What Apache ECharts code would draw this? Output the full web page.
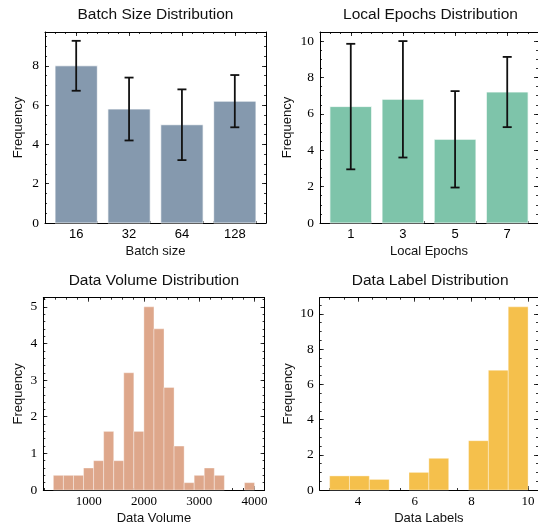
<!DOCTYPE html>
<html><head><meta charset="utf-8">
<script src="https://cdn.jsdelivr.net/npm/echarts@6/dist/echarts.min.js"></script>
<style>html,body{margin:0;padding:0;background:#fff}#c{width:538px;height:530px}</style>
</head><body><div id="c"></div>
<script>
// ---- data ----
const batchSizes = ['16', '32', '64', '128'];
const batchFreq = [8.0, 5.8, 5.0, 6.2];
const batchErr = [1.27, 1.6, 1.8, 1.33];

const localEpochs = ['1', '3', '5', '7'];
const epochFreq = [6.4, 6.8, 4.6, 7.2];
const epochErr = [3.45, 3.2, 2.65, 1.93];

const volumeRange = [360, 4000];
const volumeCounts = [0.4, 0.4, 0.4, 0.6, 0.8, 1.6, 0.8, 3.2, 1.6, 5.0, 4.4, 2.8, 1.2, 0.2, 0.4, 0.6, 0.4, 0, 0, 0.2];

const labelRange = [3, 10];
const labelCounts = [0.8, 0.8, 0.6, 0, 1.0, 1.8, 0, 2.8, 6.8, 10.4];

const batchYTicks = [0, 2, 4, 6, 8];
const epochYTicks = [0, 2, 4, 6, 8, 10];
const volumeXTicks = [1000, 2000, 3000, 4000];
const volumeYTicks = [0, 1, 2, 3, 4, 5];
const labelXTicks = [4, 6, 8, 10];
const labelYTicks = [0, 2, 4, 6, 8, 10];

// ---- helpers ----
const SANS = 'Liberation Sans, Arial, Helvetica, sans-serif';
const SERIF = 'Liberation Serif, Times New Roman, serif';
function steps(a, b, step) {
  const out = []; const n = Math.round((b - a) / step);
  for (let i = 0; i <= n; i++) out.push(+(a + i * step).toFixed(6));
  return out;
}
function histEdges(range, n) {
  const w = (range[1] - range[0]) / n;
  return steps(range[0], range[1], w);
}

const panels = [
  { title: 'Batch Size Distribution', grid: { left: 45, top: 32, width: 221, height: 191 },
    x: { min: -0.59, max: 3.59, major: [0, 1, 2, 3], minor: steps(-0.4, 3.4, 0.2), font: SANS, size: 13,
         fmt: v => batchSizes[Math.round(v)], name: 'Batch size' },
    y: { min: 0, max: 9.72, major: batchYTicks, minor: steps(0, 9.5, 0.5), gap: 20 } },
  { title: 'Local Epochs Distribution', grid: { left: 320, top: 32, width: 221, height: 191 },
    x: { min: -0.59, max: 3.59, major: [0, 1, 2, 3], minor: steps(-0.4, 3.4, 0.2), font: SANS, size: 13,
         fmt: v => localEpochs[Math.round(v)], name: 'Local Epochs' },
    y: { min: 0, max: 10.5, major: epochYTicks, minor: steps(0, 10.5, 0.5), gap: 26 } },
  { title: 'Data Volume Distribution', grid: { left: 43.3, top: 297.7, width: 221.3, height: 192.3 },
    x: { min: 178, max: 4182, major: volumeXTicks, minor: steps(200, 4000, 200), font: SERIF, size: 13,
         fmt: v => String(v), name: 'Data Volume' },
    y: { min: 0, max: 5.25, major: volumeYTicks, minor: steps(0, 5.2, 0.2), gap: 18 } },
  { title: 'Data Label Distribution', grid: { left: 319.7, top: 297.7, width: 221, height: 192.3 },
    x: { min: 2.65, max: 10.35, major: labelXTicks, minor: steps(3, 10, 0.5), font: SERIF, size: 13,
         fmt: v => String(v), name: 'Data Labels' },
    y: { min: 0, max: 10.92, major: labelYTicks, minor: steps(0, 10.5, 0.5), gap: 25 } }
];

const grids = [], xAxes = [], yAxes = [], titles = [], series = [];
const tickLine = { color: '#000', width: 0.8 };
const axisLine = { show: true, onZero: false, lineStyle: { color: '#000', width: 1 } };

panels.forEach((p, gi) => {
  grids.push(Object.assign({ containLabel: false }, p.grid));
  titles.push({ text: p.title, left: p.grid.left + p.grid.width / 2, top: p.grid.top - 25, textAlign: 'center', padding: 0,
    textStyle: { fontFamily: SANS, fontSize: 15.5, fontWeight: 'normal', color: '#111' } });
  const xBase = { type: 'value', gridIndex: gi, min: p.x.min, max: p.x.max, splitLine: { show: false } };
  const xMainIdx = xAxes.length;
  xAxes.push(Object.assign({}, xBase, { position: 'bottom', axisLine,
    axisTick: { show: true, inside: true, length: 4, customValues: p.x.major, lineStyle: tickLine },
    axisLabel: { show: true, customValues: p.x.major, margin: 5, formatter: p.x.fmt, fontFamily: p.x.font, fontSize: p.x.size, color: '#000' },
    name: p.x.name, nameLocation: 'middle', nameGap: 22, nameTextStyle: { fontFamily: SANS, fontSize: 13, color: '#111' } }));
  xAxes.push(Object.assign({}, xBase, { position: 'bottom', axisLine: { show: false, onZero: false },
    axisTick: { show: true, inside: true, length: 2, customValues: p.x.minor, lineStyle: tickLine }, axisLabel: { show: false } }));
  xAxes.push(Object.assign({}, xBase, { position: 'top', axisLine,
    axisTick: { show: true, inside: true, length: 4, customValues: p.x.major, lineStyle: tickLine }, axisLabel: { show: false } }));
  xAxes.push(Object.assign({}, xBase, { position: 'top', axisLine: { show: false, onZero: false },
    axisTick: { show: true, inside: true, length: 2, customValues: p.x.minor, lineStyle: tickLine }, axisLabel: { show: false } }));
  const yBase = { type: 'value', gridIndex: gi, min: p.y.min, max: p.y.max, splitLine: { show: false } };
  const yMainIdx = yAxes.length;
  yAxes.push(Object.assign({}, yBase, { position: 'left', axisLine,
    axisTick: { show: true, inside: true, length: 4, customValues: p.y.major, lineStyle: tickLine },
    axisLabel: { show: true, customValues: p.y.major, margin: 6, fontFamily: SERIF, fontSize: 13.5, color: '#000' },
    name: 'Frequency', nameLocation: 'middle', nameGap: p.y.gap, nameTextStyle: { fontFamily: SANS, fontSize: 13, color: '#111' } }));
  yAxes.push(Object.assign({}, yBase, { position: 'left', axisLine: { show: false, onZero: false },
    axisTick: { show: true, inside: true, length: 2, customValues: p.y.minor, lineStyle: tickLine }, axisLabel: { show: false } }));
  yAxes.push(Object.assign({}, yBase, { position: 'right', axisLine,
    axisTick: { show: true, inside: true, length: 4, customValues: p.y.major, lineStyle: tickLine }, axisLabel: { show: false } }));
  yAxes.push(Object.assign({}, yBase, { position: 'right', axisLine: { show: false, onZero: false },
    axisTick: { show: true, inside: true, length: 2, customValues: p.y.minor, lineStyle: tickLine }, axisLabel: { show: false } }));
  p.xi = xMainIdx; p.yi = yMainIdx;
});

function barSeries(p, vals, color) {
  return { type: 'custom', xAxisIndex: p.xi, yAxisIndex: p.yi, z: 2,
    data: vals.map((v, i) => [i, v]),
    encode: { x: 0, y: 1 },
    renderItem: (params, api) => {
      const x = api.value(0), v = api.value(1);
      const a = api.coord([x - 0.4, v]), b = api.coord([x + 0.4, 0]);
      return { type: 'rect', shape: { x: a[0], y: a[1], width: b[0] - a[0], height: b[1] - a[1] },
        style: { fill: color, stroke: 'rgba(255,255,255,0.75)', lineWidth: 1 } };
    } };
}
function errSeries(p, vals, errs) {
  return { type: 'custom', xAxisIndex: p.xi, yAxisIndex: p.yi, z: 5,
    data: vals.map((v, i) => [i, v - errs[i], v + errs[i]]),
    encode: { x: 0, y: [1, 2] },
    renderItem: (params, api) => {
      const x = api.value(0);
      const lo = api.coord([x, api.value(1)]), hi = api.coord([x, api.value(2)]);
      const cw = 4.5, st = { stroke: '#111', lineWidth: 1.8 };
      return { type: 'group', children: [
        { type: 'line', shape: { x1: lo[0], y1: lo[1], x2: hi[0], y2: hi[1] }, style: st },
        { type: 'line', shape: { x1: lo[0] - cw, y1: lo[1], x2: lo[0] + cw, y2: lo[1] }, style: st },
        { type: 'line', shape: { x1: hi[0] - cw, y1: hi[1], x2: hi[0] + cw, y2: hi[1] }, style: st }
      ] };
    } };
}
function histSeries(p, range, counts, color) {
  const edges = histEdges(range, counts.length);
  return { type: 'custom', xAxisIndex: p.xi, yAxisIndex: p.yi, z: 2,
    data: counts.map((c, i) => [edges[i], edges[i + 1], c]),
    encode: { x: [0, 1], y: 2 },
    renderItem: (params, api) => {
      const h = api.value(2);
      if (!(h > 0)) return null;
      const a = api.coord([api.value(0), h]), b = api.coord([api.value(1), 0]);
      return { type: 'rect', shape: { x: a[0], y: a[1], width: b[0] - a[0], height: b[1] - a[1] },
        style: { fill: color, stroke: 'rgba(255,255,255,0.45)', lineWidth: 0.8 } };
    } };
}

series.push(barSeries(panels[0], batchFreq, '#8599ae'));
series.push(errSeries(panels[0], batchFreq, batchErr));
series.push(barSeries(panels[1], epochFreq, '#7ec4aa'));
series.push(errSeries(panels[1], epochFreq, epochErr));
series.push(histSeries(panels[2], volumeRange, volumeCounts, '#dea78b'));
series.push(histSeries(panels[3], labelRange, labelCounts, '#f5c04c'));

const chart = echarts.init(document.getElementById('c'), null, { renderer: 'canvas' });
chart.setOption({ animation: false, backgroundColor: '#fff', title: titles, grid: grids, xAxis: xAxes, yAxis: yAxes, series });
</script></body></html>
